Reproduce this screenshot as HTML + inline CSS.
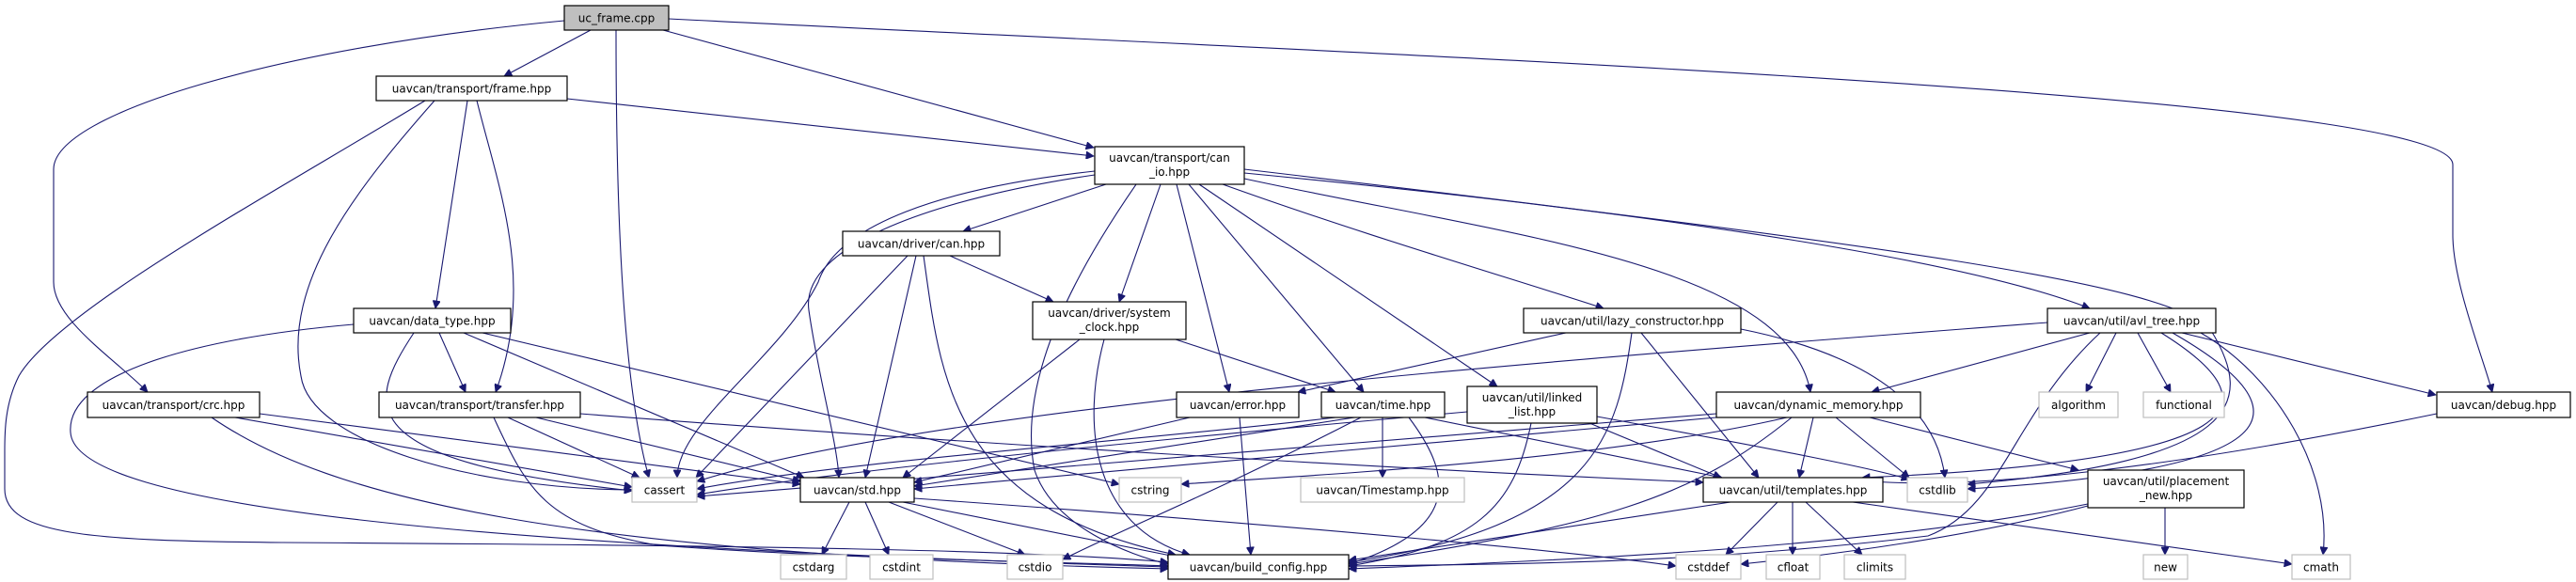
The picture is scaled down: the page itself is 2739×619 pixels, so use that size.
<!DOCTYPE html>
<html><head><meta charset="utf-8"><style>
html,body{margin:0;padding:0;background:#fff;}
svg{display:block;}
text{font-family:"DejaVu Sans","Liberation Sans",sans-serif;font-size:12px;fill:#000;}
.e{fill:none;stroke:#191970;stroke-width:1.1;}
.n{fill:#fff;stroke:#000;stroke-width:1.2;}
.s{fill:#fff;stroke:#bfbfbf;stroke-width:1.2;}
</style></head><body>
<svg width="2739" height="619" viewBox="0 0 2739 619" xmlns="http://www.w3.org/2000/svg">
<defs><marker id="a" viewBox="0 0 10 10" refX="10" refY="5" markerWidth="10" markerHeight="8" markerUnits="userSpaceOnUse" orient="auto"><path d="M0,0 L10,5 L0,10 z" fill="#191970" stroke="#191970"/></marker></defs>
<g marker-end="url(#a)">
<path class="e" d="M628,32 L536,81"/>
<path class="e" d="M705,32 L1163,157"/>
<path class="e" d="M655,32 C655,200 660,400 690,508"/>
<path class="e" d="M600,22 C300,50 57,120 57,180 L57,300 C57,340 120,380 157,417"/>
<path class="e" d="M711,20 C1500,60 2608,100 2608,175 L2608,250 C2608,300 2640,380 2650,417"/>
<path class="e" d="M603,105 L1163,166"/>
<path class="e" d="M497,107 L463,328"/>
<path class="e" d="M507,107 C530,200 570,300 527,417"/>
<path class="e" d="M462,107 C380,200 300,300 320,400 C330,470 500,520 672,521"/>
<path class="e" d="M452,107 C300,200 60,330 20,400 C5,430 5,460 5,480 L5,520 C5,570 100,575 300,577 C800,580 1100,585 1242,598"/>
<path class="e" d="M1176,196 L1024,246"/>
<path class="e" d="M1234,196 L1190,321"/>
<path class="e" d="M1251,196 L1307,417"/>
<path class="e" d="M1264,196 L1450,417"/>
<path class="e" d="M1275,196 L1592,411"/>
<path class="e" d="M1300,196 C1450,250 1620,300 1705,328"/>
<path class="e" d="M1323,190 C1600,250 1900,280 1925,417"/>
<path class="e" d="M1323,184 C1800,230 2100,280 2222,328"/>
<path class="e" d="M1323,180 C2000,260 2300,300 2350,350 C2400,430 2380,490 2092,515"/>
<path class="e" d="M1164,182 C1000,200 890,240 870,300 C830,380 720,450 720,508"/>
<path class="e" d="M1164,186 C1000,210 850,260 860,330 C870,400 890,470 892,508"/>
<path class="e" d="M1208,196 C1150,280 1080,400 1100,500 C1120,560 1200,590 1242,600"/>
<path class="e" d="M1010,272 L1120,321"/>
<path class="e" d="M965,272 L740,508"/>
<path class="e" d="M974,272 L920,508"/>
<path class="e" d="M982,272 C1000,400 1010,540 1250,590"/>
<path class="e" d="M1250,361 L1420,417"/>
<path class="e" d="M1148,361 L960,508"/>
<path class="e" d="M1174,361 C1150,450 1160,560 1265,590"/>
<path class="e" d="M467,354 L495,417"/>
<path class="e" d="M440,354 C390,430 370,490 672,522"/>
<path class="e" d="M493,354 L855,508"/>
<path class="e" d="M513,354 L1190,515"/>
<path class="e" d="M376,345 C200,360 70,400 75,460 C80,540 500,580 1242,603"/>
<path class="e" d="M250,444 L672,518"/>
<path class="e" d="M276,440 L851,515"/>
<path class="e" d="M225,444 C350,530 600,590 1242,605"/>
<path class="e" d="M540,444 L680,508"/>
<path class="e" d="M570,444 L851,512"/>
<path class="e" d="M525,444 C560,520 580,560 700,580 C900,595 1150,598 1242,602"/>
<path class="e" d="M617,440 C1000,470 1500,500 1811,513"/>
<path class="e" d="M1265,444 L972,513"/>
<path class="e" d="M1318,444 L1330,590"/>
<path class="e" d="M1420,444 C1200,470 900,490 741,520"/>
<path class="e" d="M1440,444 L972,517"/>
<path class="e" d="M1470,444 L1470,508"/>
<path class="e" d="M1498,444 C1540,500 1560,560 1434,600"/>
<path class="e" d="M1447,444 C1300,520 1200,560 1130,595"/>
<path class="e" d="M1515,444 L1831,508"/>
<path class="e" d="M1628,450 C1610,540 1570,580 1434,602"/>
<path class="e" d="M1690,450 L1830,508"/>
<path class="e" d="M1698,443 C1900,480 2000,500 2030,510"/>
<path class="e" d="M1560,438 C1200,470 900,500 741,526"/>
<path class="e" d="M1665,354 L1380,417"/>
<path class="e" d="M1745,354 L1870,508"/>
<path class="e" d="M1735,354 C1720,460 1700,560 1434,598"/>
<path class="e" d="M1851,350 C2000,380 2060,440 2068,508"/>
<path class="e" d="M2222,354 L1990,417"/>
<path class="e" d="M2250,354 L2218,417"/>
<path class="e" d="M2273,354 L2308,417"/>
<path class="e" d="M2320,354 L2590,420"/>
<path class="e" d="M2340,354 C2420,400 2480,500 2470,590"/>
<path class="e" d="M2177,343 C1700,380 1000,430 741,512"/>
<path class="e" d="M2298,354 C2420,430 2400,490 1980,508"/>
<path class="e" d="M2310,354 C2460,440 2430,500 2092,520"/>
<path class="e" d="M2233,354 C2140,440 2130,540 2050,570 C1800,600 1600,600 1434,602"/>
<path class="e" d="M1825,440 L741,528"/>
<path class="e" d="M1825,444 L972,520"/>
<path class="e" d="M1900,444 C1700,490 1400,505 1256,515"/>
<path class="e" d="M1928,444 L1913,508"/>
<path class="e" d="M1952,444 L2030,508"/>
<path class="e" d="M1988,444 L2210,500"/>
<path class="e" d="M1905,444 C1800,530 1700,560 1434,600"/>
<path class="e" d="M2591,440 C2300,500 2100,520 1990,512"/>
<path class="e" d="M2302,540 L2302,590"/>
<path class="e" d="M2220,536 C2000,580 1700,595 1434,605"/>
<path class="e" d="M2220,538 C2100,570 1950,590 1851,600"/>
<path class="e" d="M903,534 L874,590"/>
<path class="e" d="M920,534 L945,590"/>
<path class="e" d="M945,534 L1090,590"/>
<path class="e" d="M960,534 L1250,592"/>
<path class="e" d="M972,530 C1400,560 1700,590 1782,602"/>
<path class="e" d="M1890,534 L1835,590"/>
<path class="e" d="M1906,534 L1906,590"/>
<path class="e" d="M1920,534 L1980,590"/>
<path class="e" d="M1970,534 L2437,600"/>
<path class="e" d="M1840,534 L1434,596"/>
</g>
<rect x="600" y="6" width="111" height="26" fill="#bfbfbf" stroke="#000" stroke-width="1.2"/><text x="655.5" y="23.5" text-anchor="middle">uc_frame.cpp</text>
<rect class="n" x="400" y="81" width="203" height="26"/><text x="501.5" y="98.5" text-anchor="middle">uavcan/transport/frame.hpp</text>
<rect class="n" x="1164" y="156" width="159" height="40"/><text x="1243.5" y="172" text-anchor="middle">uavcan/transport/can</text><text x="1243.5" y="187" text-anchor="middle">_io.hpp</text>
<rect class="n" x="896" y="246" width="167" height="26"/><text x="979.5" y="263.5" text-anchor="middle">uavcan/driver/can.hpp</text>
<rect class="n" x="1098" y="321" width="163" height="40"/><text x="1179.5" y="337" text-anchor="middle">uavcan/driver/system</text><text x="1179.5" y="352" text-anchor="middle">_clock.hpp</text>
<rect class="n" x="376" y="328" width="167" height="26"/><text x="459.5" y="345.5" text-anchor="middle">uavcan/data_type.hpp</text>
<rect class="n" x="1620" y="328" width="231" height="26"/><text x="1735.5" y="345.5" text-anchor="middle">uavcan/util/lazy_constructor.hpp</text>
<rect class="n" x="2177" y="328" width="179" height="26"/><text x="2266.5" y="345.5" text-anchor="middle">uavcan/util/avl_tree.hpp</text>
<rect class="n" x="93" y="417" width="183" height="27"/><text x="184.5" y="435" text-anchor="middle">uavcan/transport/crc.hpp</text>
<rect class="n" x="403" y="417" width="214" height="27"/><text x="510" y="435" text-anchor="middle">uavcan/transport/transfer.hpp</text>
<rect class="n" x="1251" y="417" width="130" height="27"/><text x="1316" y="435" text-anchor="middle">uavcan/error.hpp</text>
<rect class="n" x="1405" y="417" width="131" height="27"/><text x="1470.5" y="435" text-anchor="middle">uavcan/time.hpp</text>
<rect class="n" x="1560" y="411" width="138" height="39"/><text x="1629" y="427" text-anchor="middle">uavcan/util/linked</text><text x="1629" y="442" text-anchor="middle">_list.hpp</text>
<rect class="n" x="1825" y="417" width="217" height="27"/><text x="1933.5" y="435" text-anchor="middle">uavcan/dynamic_memory.hpp</text>
<rect class="s" x="2168" y="417" width="84" height="27"/><text x="2210" y="435" text-anchor="middle">algorithm</text>
<rect class="s" x="2279" y="417" width="86" height="27"/><text x="2322" y="435" text-anchor="middle">functional</text>
<rect class="n" x="2591" y="417" width="142" height="27"/><text x="2662" y="435" text-anchor="middle">uavcan/debug.hpp</text>
<rect class="s" x="672" y="508" width="69" height="26"/><text x="706.5" y="525.5" text-anchor="middle">cassert</text>
<rect class="n" x="851" y="508" width="121" height="26"/><text x="911.5" y="525.5" text-anchor="middle">uavcan/std.hpp</text>
<rect class="s" x="1190" y="508" width="66" height="26"/><text x="1223" y="525.5" text-anchor="middle">cstring</text>
<rect class="s" x="1383" y="508" width="174" height="26"/><text x="1470" y="525.5" text-anchor="middle">uavcan/Timestamp.hpp</text>
<rect class="n" x="1811" y="508" width="191" height="26"/><text x="1906.5" y="525.5" text-anchor="middle">uavcan/util/templates.hpp</text>
<rect class="s" x="2028" y="508" width="64" height="26"/><text x="2060" y="525.5" text-anchor="middle">cstdlib</text>
<rect class="n" x="2220" y="500" width="166" height="40"/><text x="2303" y="516" text-anchor="middle">uavcan/util/placement</text><text x="2303" y="531" text-anchor="middle">_new.hpp</text>
<rect class="s" x="830" y="590" width="70" height="26"/><text x="865" y="607.5" text-anchor="middle">cstdarg</text>
<rect class="s" x="925" y="590" width="67" height="26"/><text x="958.5" y="607.5" text-anchor="middle">cstdint</text>
<rect class="s" x="1071" y="590" width="59" height="26"/><text x="1100.5" y="607.5" text-anchor="middle">cstdio</text>
<rect class="n" x="1242" y="590" width="192" height="26"/><text x="1338" y="607.5" text-anchor="middle">uavcan/build_config.hpp</text>
<rect class="s" x="1782" y="590" width="69" height="26"/><text x="1816.5" y="607.5" text-anchor="middle">cstddef</text>
<rect class="s" x="1878" y="590" width="57" height="26"/><text x="1906.5" y="607.5" text-anchor="middle">cfloat</text>
<rect class="s" x="1961" y="590" width="65" height="26"/><text x="1993.5" y="607.5" text-anchor="middle">climits</text>
<rect class="s" x="2279" y="590" width="47" height="26"/><text x="2302.5" y="607.5" text-anchor="middle">new</text>
<rect class="s" x="2437" y="590" width="62" height="26"/><text x="2468" y="607.5" text-anchor="middle">cmath</text>
</svg>
</body></html>
